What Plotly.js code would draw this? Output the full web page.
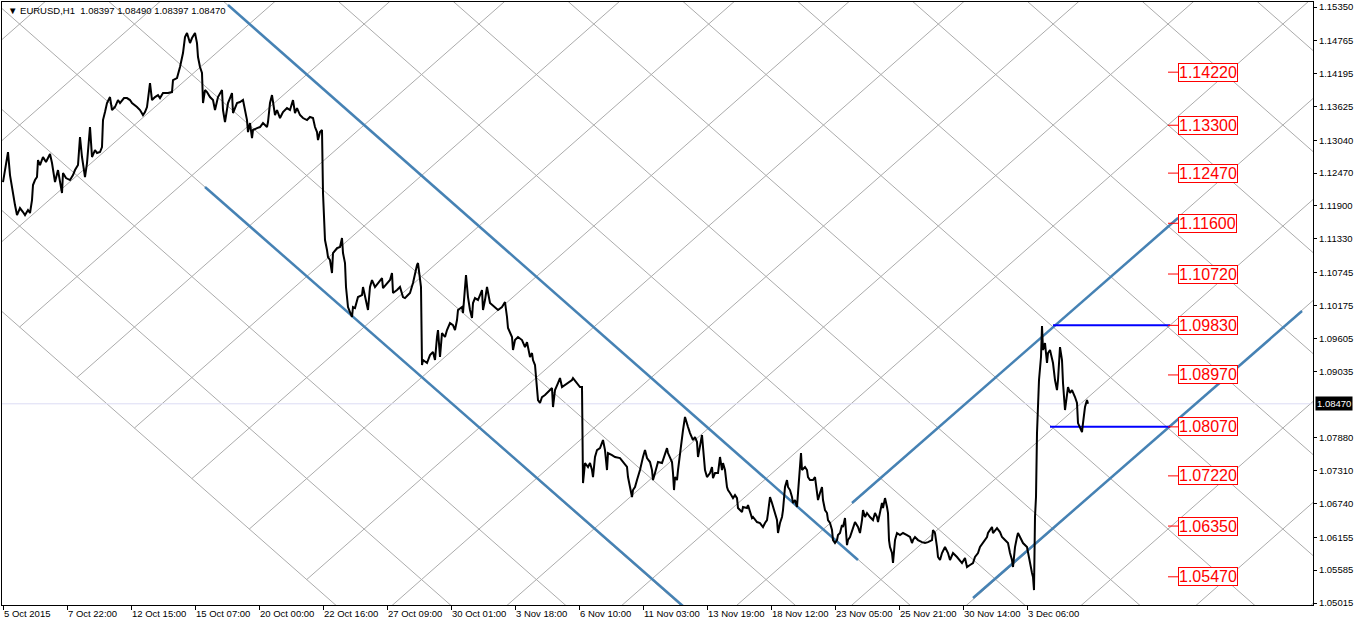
<!DOCTYPE html>
<html><head><meta charset="utf-8">
<script src="https://cdn.plot.ly/plotly-3.0.1.min.js"></script>
<style>html,body{margin:0;padding:0;background:#fff;overflow:hidden}#chart{width:1356px;height:624px}</style>
</head><body><div id="chart"></div>
<script>
// ---- data (bar index = hourly bar count from 5 Oct 2015 00:00) ----
const barIndex = [
0,2,5,7,10,12,14,17,20,22,
25,27,29,30,32,34,35,37,40,43,
47,49,52,55,59,60,63,67,70,72,
75,77,79,82,84,87,89,92,94,97,
99,100,102,104,107,109,112,115,117,121,
124,127,129,132,134,137,140,142,144,147,
149,152,155,157,160,165,169,170,174,177,
179,180,182,184,187,189,192,194,195,197,
199,200,202,204,207,210,212,215,219,220,
222,225,229,230,234,237,240,242,244,245,
247,249,250,254,257,260,264,265,267,269,
270,272,274,277,280,284,287,290,292,294,
297,300,304,307,310,312,314,315,317,319,
320,321,322,324,325,327,329,330,334,337,
339,340,342,343,344,345,347,349,350,352,
355,359,360,362,364,365,367,369,372,375,
379,380,384,387,389,390,394,397,400,402,
404,407,410,412,414,415,417,418,419,420,
424,427,430,432,434,435,437,439,442,444,
447,450,452,454,455,459,460,462,463,465,
467,469,470,472,475,479,480,482,484,487,
492,495,499,502,504,505,509,510,512,515,
519,522,524,525,527,529,530,532,533,534,
535,537,539,542,545,549,550,552,555,557,
559,562,565,569,570,574,577,579,580,582,
585,587,589,590,592,594,597,600,602,604,
605,609,612,617,620,624,625,627,629,630,
632,634,637,640,642,644,647,649,650,652,
654,655,659,662,664,665,667,669,670,671,
672,674,675,677,679,680,682,684,685,687,
689,690,692,694,695,697,699,700,702,704,
707,709,710,712,715,717,719,720,722,724,
725,727,729,730,732,734,735,737,739,740,
744,745,747,749,750,754,757,760,762,764,
765,767,769,770,772,774,775,777,779,780,
782,784,785,787,789,790,792,794,795,797,
798,799,802,804,805,807,810,812,814,815,
817,819,820,822,824,825,827,829,830,832,
834,835,837,839,840,842,844,845,847,849,
852,855,857,859,860,862,864,867,870,872,
874,875,877,879,880,882,884,885,886,887,
889,890,892,894,897,900,904,907,909,910,
912,915,919,922,925,929,930,932,934,935,
937,939,942,945,947,950,954,957,959,962,
964,967,970,972,975,977,980,984,985,987,
989,990,992,994,997,999,1002,1005,1007,1009,
1010,1012,1014,1015,1017,1020,1024,1025,1027,1029,
1030,1031,1032,1033,1034,1035,1036,1038,1039,1040,
1042,1044,1045,1047,1049,1050,1052,1054,1055,1057,
1059,1060,1062,1064,1065,1067,1069,1072,1074,1075,
1077,1079,1080,1082,1084,1085
];
const price = [
1.12315,1.12523,1.12835,1.12436,1.12089,1.11916,1.11743,1.11864,1.11795,1.11743,
1.11830,1.11778,1.12003,1.12263,1.12350,1.12402,1.12697,1.12610,1.12749,1.12662,
1.12801,1.12645,1.12315,1.12523,1.12124,1.12471,1.12384,1.12350,1.12436,1.12523,
1.12610,1.13096,1.12749,1.12402,1.12645,1.13269,1.12749,1.12870,1.12818,1.12835,
1.12922,1.13390,1.13529,1.13685,1.13789,1.13564,1.13616,1.13737,1.13685,1.13771,
1.13771,1.13737,1.13685,1.13650,1.13616,1.13564,1.13477,1.13529,1.13616,1.14032,
1.13737,1.13789,1.13823,1.13771,1.13858,1.13858,1.13875,1.14084,1.14118,1.14310,
1.14465,1.14552,1.14830,1.14899,1.14725,1.14812,1.14899,1.14725,1.14483,1.14310,
1.14205,1.13685,1.13910,1.13875,1.13789,1.13737,1.13564,1.13789,1.13910,1.13564,
1.13355,1.13685,1.13858,1.13512,1.13685,1.13702,1.13737,1.13564,1.13390,1.13182,
1.13338,1.13078,1.13217,1.13251,1.13269,1.13338,1.13269,1.13355,1.13685,1.13823,
1.13702,1.13477,1.13564,1.13425,1.13529,1.13598,1.13564,1.13737,1.13512,1.13598,
1.13477,1.13425,1.13390,1.13443,1.13425,1.13269,1.13182,1.13043,1.13182,1.13217,
1.12124,1.11656,1.11309,1.11136,1.11015,1.10963,1.10737,1.11084,1.11170,1.11188,
1.11344,1.11084,1.10911,1.10495,1.10269,1.10148,1.10061,1.09975,1.10148,1.10130,
1.10321,1.10355,1.10495,1.10321,1.10148,1.10096,1.10495,1.10616,1.10495,1.10564,
1.10650,1.10477,1.10564,1.10616,1.10737,1.10390,1.10442,1.10495,1.10321,1.10303,
1.10338,1.10390,1.10564,1.10737,1.10876,1.10911,1.10616,1.10495,1.09142,1.09229,
1.09177,1.09315,1.09367,1.09229,1.09628,1.09749,1.09281,1.09697,1.09628,1.09749,
1.09870,1.09835,1.09749,1.09922,1.10096,1.10148,1.10044,1.10442,1.10702,1.10321,
1.10096,1.09957,1.10217,1.10303,1.10269,1.10442,1.10096,1.10269,1.10495,1.10217,
1.10130,1.10096,1.10148,1.10234,1.09975,1.09784,1.09628,1.09402,1.09575,1.09628,
1.09575,1.09454,1.09540,1.09436,1.09281,1.09350,1.09229,1.09142,1.08934,1.08656,
1.08535,1.08483,1.08587,1.08621,1.08673,1.08743,1.08414,1.08708,1.08830,1.08916,
1.08761,1.08795,1.08830,1.08882,1.08916,1.08830,1.08761,1.08761,1.07096,1.07443,
1.07374,1.07443,1.07321,1.07200,1.07547,1.07668,1.07702,1.07841,1.07668,1.07321,
1.07616,1.07581,1.07547,1.07529,1.07460,1.07374,1.07200,1.07027,1.06853,1.06974,
1.07027,1.07148,1.07321,1.07547,1.07668,1.07529,1.07460,1.07321,1.07148,1.07269,
1.07374,1.07460,1.07443,1.07616,1.07702,1.07616,1.07547,1.07460,1.07269,1.06974,
1.07200,1.07148,1.07321,1.07616,1.07894,1.08015,1.08241,1.08101,1.08067,1.07963,
1.07894,1.07841,1.07894,1.07806,1.07547,1.07754,1.07928,1.07720,1.07321,1.07200,
1.07269,1.07374,1.07182,1.07269,1.07269,1.07547,1.07321,1.07443,1.07321,1.07027,
1.06974,1.06922,1.06853,1.06835,1.06887,1.06835,1.06662,1.06628,1.06593,1.06680,
1.06662,1.06714,1.06576,1.06489,1.06507,1.06419,1.06402,1.06333,1.06402,1.06454,
1.06576,1.06853,1.06749,1.06680,1.06576,1.06454,1.06229,1.06402,1.06507,1.06628,
1.07027,1.07148,1.07027,1.06974,1.06853,1.06749,1.06801,1.06680,1.06922,1.07374,
1.07616,1.07321,1.07374,1.07321,1.07200,1.07148,1.07148,1.07200,1.06974,1.06801,
1.06922,1.07027,1.06801,1.06628,1.06576,1.06454,1.06402,1.06281,1.06107,1.06055,
1.06107,1.06194,1.06229,1.06367,1.06333,1.06489,1.06020,1.06107,1.06160,1.06281,
1.06419,1.06333,1.06229,1.06454,1.06628,1.06507,1.06576,1.06507,1.06454,1.06576,
1.06507,1.06419,1.06576,1.06749,1.06662,1.06835,1.06680,1.06576,1.06107,1.05986,
1.05882,1.05709,1.06107,1.06229,1.06194,1.06229,1.06194,1.06160,1.06055,1.06107,
1.06160,1.06107,1.06072,1.06055,1.06072,1.06107,1.06281,1.06229,1.05986,1.05813,
1.05761,1.05882,1.05986,1.05882,1.05761,1.05882,1.05813,1.05761,1.05709,1.05795,
1.05640,1.05674,1.05709,1.05813,1.05882,1.05986,1.06055,1.06160,1.06229,1.06281,
1.06333,1.06229,1.06281,1.06315,1.06246,1.06160,1.06107,1.06055,1.05882,1.05761,
1.05640,1.05986,1.06160,1.06229,1.06160,1.06055,1.05986,1.05882,1.05709,1.05535,
1.05466,1.05240,1.06507,1.06853,1.07963,1.08535,1.08882,1.09281,1.09818,1.09402,
1.09523,1.09177,1.09350,1.09402,1.09281,1.09177,1.08882,1.08708,1.08882,1.09454,
1.09229,1.08830,1.08362,1.08708,1.08761,1.08656,1.08708,1.08587,1.08483,1.08136,
1.08067,1.07980,1.08136,1.08414,1.08535,1.08470
];

// x-axis labels every 64 hourly bars
const xTickBars = [0,64,128,192,256,320,384,448,512,576,640,704,768,832,896,960,1024];
const xTickLabels = ["5 Oct 2015","7 Oct 22:00","12 Oct 15:00","15 Oct 07:00","20 Oct 00:00",
  "22 Oct 16:00","27 Oct 09:00","30 Oct 01:00","3 Nov 18:00","6 Nov 10:00","11 Nov 03:00",
  "13 Nov 19:00","18 Nov 12:00","23 Nov 05:00","25 Nov 21:00","30 Nov 14:00","3 Dec 06:00"];
const yTickValues = [1.15350,1.14765,1.14195,1.13625,1.13040,1.12470,1.11900,1.11330,1.10745,
  1.10175,1.09605,1.09035,1.07880,1.07310,1.06740,1.06155,1.05585,1.05015];
const currentPrice = 1.08470;
const headerText = "EURUSD,H1  1.08397 1.08490 1.08397 1.08470";

// drawn trend channel lines
const channelStartBar   = [225, 202, 849, 970];
const channelStartPrice = [1.15384, 1.12228, 1.06749, 1.05102];
const channelEndBar     = [855, 680, 1175, 1299];
const channelEndPrice   = [1.05761, 1.04963, 1.11691, 1.10078];

// horizontal blue levels
const hLevelPrice = [1.09830, 1.08070];
const hLevelStartBar = [1050, 1047];
const hLevelEndBar = 1167;

// red price level labels
const levelPrices = [1.14220,1.13300,1.12470,1.11600,1.10720,1.09830,1.08970,1.08070,1.07220,1.06350,1.05470];
const levelLabelBar = 1175;
const levelTickStartBar = 1165;

// Gann-style diagonal grid parameters
const gridAnchorBar = 1165, gridAnchorPrice = 1.15055, gridStepBars = 57.42, gridStepPrice = 0.008757;
const gridFirstFalling = -13;

// ---- build traces ----
const traces = [];
function gp(a, b) { return [gridAnchorBar + (a + b) * gridStepBars, gridAnchorPrice - (a - b) * gridStepPrice]; }
const gx = [], gy = [];
for (let b = gridFirstFalling; b <= 3; b++) {
  const p1 = gp(-30, b), p2 = gp(30, b);
  gx.push(p1[0], p2[0], null); gy.push(p1[1], p2[1], null);
}
for (let a = -11; a <= 8; a++) {
  const p1 = gp(a, gridFirstFalling), p2 = gp(a, 30);
  gx.push(p1[0], p2[0], null); gy.push(p1[1], p2[1], null);
}
traces.push({x: gx, y: gy, mode: 'lines', line: {color: '#ababab', width: 1}, hoverinfo: 'skip', showlegend: false});

// current price line
traces.push({x: [-1, 1310], y: [currentPrice, currentPrice], mode: 'lines', line: {color: '#dcdcf4', width: 1}, hoverinfo: 'skip', showlegend: false});

// channel lines
const cx = [], cy = [];
for (let i = 0; i < channelStartBar.length; i++) {
  cx.push(channelStartBar[i], channelEndBar[i], null);
  cy.push(channelStartPrice[i], channelEndPrice[i], null);
}
traces.push({x: cx, y: cy, mode: 'lines', line: {color: '#4682B4', width: 2.5}, hoverinfo: 'skip', showlegend: false});

// blue horizontal levels
const hx = [], hy = [];
for (let i = 0; i < hLevelPrice.length; i++) {
  hx.push(hLevelStartBar[i], hLevelEndBar, null);
  hy.push(hLevelPrice[i], hLevelPrice[i], null);
}
traces.push({x: hx, y: hy, mode: 'lines', line: {color: '#0000FF', width: 2}, hoverinfo: 'skip', showlegend: false});

// red ticks for level labels
const rx = [], ry = [];
levelPrices.forEach(p => { rx.push(levelTickStartBar, levelLabelBar, null); ry.push(p, p, null); });
traces.push({x: rx, y: ry, mode: 'lines', line: {color: '#FF0000', width: 1}, hoverinfo: 'skip', showlegend: false});

// price line
const n = Math.min(barIndex.length, price.length);
traces.push({x: barIndex.slice(0, n), y: price.slice(0, n), mode: 'lines', line: {color: '#000000', width: 2}, hoverinfo: 'skip', showlegend: false});

const font = '"Liberation Sans", Arial, sans-serif';
const annotations = [];
levelPrices.forEach(p => annotations.push({
  x: levelLabelBar, y: p, xref: 'x', yref: 'y', xanchor: 'left', yanchor: 'middle',
  text: p.toFixed(5), showarrow: false, font: {family: font, size: 16, color: '#FF0000'},
  bordercolor: '#FF0000', borderwidth: 1, borderpad: 0, bgcolor: '#FFFFFF'
}));
annotations.push({x: 1, y: currentPrice, xref: 'paper', yref: 'y', xanchor: 'left', yanchor: 'middle',
  xshift: 2, text: currentPrice.toFixed(5), showarrow: false, font: {family: font, size: 9.5, color: '#FFFFFF'},
  bgcolor: '#000000', borderpad: 1});
annotations.push({x: 0, y: 1, xref: 'paper', yref: 'paper', xanchor: 'left', yanchor: 'top',
  xshift: 4, yshift: -1, text: '\u25BC ' + headerText, showarrow: false, font: {family: font, size: 9.5, color: '#000000'}});

const layout = {
  width: 1356, height: 624, autosize: false,
  margin: {l: 2, r: 43, t: 2, b: 19, pad: 0},
  paper_bgcolor: '#FFFFFF', plot_bgcolor: '#FFFFFF',
  showlegend: false,
  xaxis: {range: [-1, 1310], showgrid: false, zeroline: false, showline: true, linecolor: '#000', linewidth: 1,
    mirror: true, ticks: 'outside', ticklen: 4, tickcolor: '#000', tickvals: xTickBars, ticktext: xTickLabels,
    tickangle: 0, ticklabelposition: 'outside right', tickfont: {family: font, size: 9.5, color: '#000'}, fixedrange: true},
  yaxis: {range: [1.04981, 1.15437], side: 'right', showgrid: false, zeroline: false, showline: true, linecolor: '#000',
    linewidth: 1, mirror: true, ticks: 'outside', ticklen: 3, tickcolor: '#000', tickvals: yTickValues,
    ticktext: yTickValues.map(v => v.toFixed(5)), tickfont: {family: font, size: 9.5, color: '#000'}, fixedrange: true},
  annotations: annotations
};
Plotly.newPlot('chart', traces, layout, {staticPlot: true, displayModeBar: false});
</script></body></html>
